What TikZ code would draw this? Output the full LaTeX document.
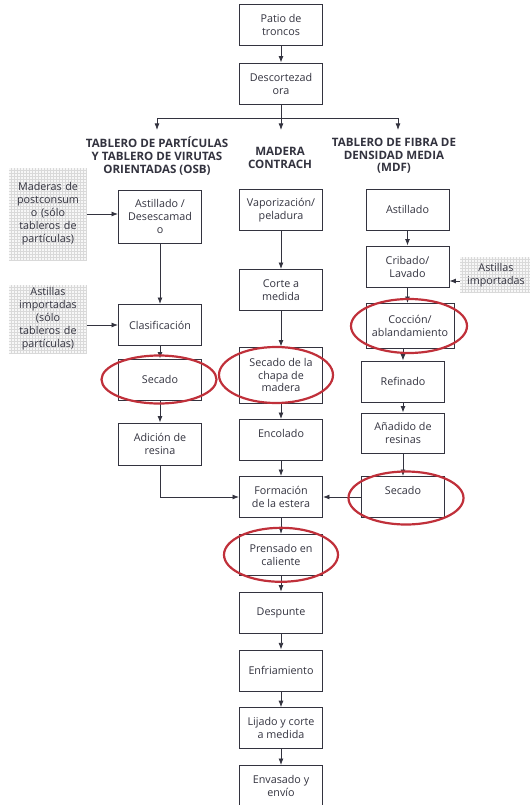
\documentclass[tikz,border=0pt]{standalone}
\usepackage{fontspec}
\setmainfont{Open Sans}
\usetikzlibrary{arrows.meta,positioning,shapes.geometric}
\definecolor{inkgray}{HTML}{33333F}
\definecolor{markred}{HTML}{C0303A}

\begin{document}
\begin{tikzpicture}[x=1bp,y=1bp,node distance=16bp,>=Latex,
 font=\fontsize{10.8}{13}\selectfont,
 stage/.style={draw=inkgray,line width=0.8bp,text=inkgray,minimum width=83bp,minimum height=41bp,align=center,inner sep=1bp},
 head/.style={text=inkgray,align=center,font=\fontsize{11.6}{12.6}\selectfont\bfseries},
 note/.style={text=inkgray,align=center,fill=gray!6,text width=74bp,inner sep=2bp,
   path picture={\draw[gray!30,line width=0.3bp,step=3bp] (path picture bounding box.south west) grid (path picture bounding box.north east);}},
 arr/.style={->,draw=inkgray,line width=0.8bp},
 ring/.style={draw=markred,line width=2.2bp}]
\useasboundingbox (0,0) rectangle (530,-805);

% common trunk
\node[stage] (patio) at (281,-25) {Patio de\\troncos};
\node[stage] (descort) at (281,-83.5) {Descortezad\\ora};
\coordinate (split) at (281,-118);
\coordinate (toL) at (157,-130);
\coordinate (toM) at (281,-130);
\coordinate (toR) at (398,-130);

% headings
\node[head] (hdL) at (157,-156) {TABLERO DE PARTÍCULAS\\Y TABLERO DE VIRUTAS\\ORIENTADAS (OSB)};
\node[head] (hdM) at (280,-158) {MADERA\\CONTRACH};
\node[head] (hdR) at (394,-156) {TABLERO DE FIBRA DE\\DENSIDAD MEDIA\\(MDF)};

% particulas / OSB
\node[stage,minimum height=53bp] (astL) at (160,-216.5) {Astillado /\\Desescamad\\o};
\node[stage] (clasif) at (160,-325) {Clasificación};
\node[stage] (secL) at (160,-379.5) {Secado};
\node[stage,minimum height=42bp] (resina) at (160,-444) {Adición de\\resina};
\node[note,minimum height=92bp] (postcon) at (48,-214) {Maderas de\\postconsum\\o (sólo\\tableros de\\partículas)};
\node[note,minimum height=68bp] (impL) at (48,-319) {Astillas\\importadas\\(sólo\\tableros de\\partículas)};

% contrachapado
\node[stage] (vapor) at (281,-210) {Vaporización/\\peladura};
\node[stage] (corte) at (281,-290) {Corte a\\medida};
\node[stage,minimum height=56bp] (chapa) at (281,-375) {Secado de la\\chapa de\\madera};
\node[stage] (encol) at (281,-440) {Encolado\\\mbox{}};
\node[stage] (estera) at (281,-497) {Formación\\de la estera};
\node[stage,below=of estera] (prens) {Prensado en\\caliente};
\node[stage,below=of prens] (despun) {Despunte};
\node[stage,below=of despun] (enfri) {Enfriamiento};
\node[stage,below=of enfri] (lijado) {Lijado y corte\\a medida};
\node[stage,below=of lijado] (envas) {Envasado y\\envío};

% MDF
\node[stage] (astR) at (407.5,-209.5) {Astillado};
\node[stage] (cribado) at (407.5,-266.5) {Cribado/\\Lavado};
\node[stage,minimum width=88bp,minimum height=45bp] (coccion) at (410,-326) {Cocción/\\ablandamiento};
\node[stage] (refin) at (403,-381.5) {Refinado};
\node[stage,minimum height=40bp] (anadido) at (403,-433) {Añadido de\\resinas};
\node[stage] (secR) at (403,-497) {Secado\\\mbox{}};
\node[note,text width=68bp,minimum height=36bp] (impR) at (496,-275) {Astillas\\importadas};

% connectors
\draw[arr] (patio) -- (descort);
\draw[arr] (descort) -- (toM);
\draw[arr] (split) -| (toL);
\draw[arr] (split) -| (toR);
\draw[arr] (postcon.east) -- (postcon.east -| astL.west);
\draw[arr] (impL.east |- clasif.west) -- (clasif.west);
\draw[arr] (astL) -- (clasif);
\draw[arr] (clasif) -- (secL);
\draw[arr] (secL) -- (resina);
\draw[arr] (resina.south) |- (estera.west);
\draw[arr] (vapor) -- (corte);
\draw[arr] (corte) -- (chapa);
\draw[arr] (chapa) -- (encol);
\draw[arr] (encol) -- (estera);
\draw[arr] (estera) -- (prens);
\draw[arr] (prens) -- (despun);
\draw[arr] (despun) -- (enfri);
\draw[arr] (enfri) -- (lijado);
\draw[arr] (lijado) -- (envas);
\draw[arr] (astR) -- (cribado);
\draw[arr] (cribado.south) -- (cribado.south |- coccion.north);
\draw[arr] (coccion.south -| refin.north) -- (refin.north);
\draw[arr] (refin) -- (anadido);
\draw[arr] (anadido) -- (secR);
\draw[arr] (secR) -- (estera);
\draw[arr] ([yshift=-6bp]impR.west) -- ([yshift=-6bp]impR.west -| cribado.east);

% highlighted steps
\draw[ring] ([xshift=-1bp]secL.center) ellipse [x radius=57.5, y radius=24];
\draw[ring] ([xshift=-5bp]chapa.center) ellipse [x radius=57, y radius=28];
\draw[ring] ([xshift=-1bp]coccion.center) ellipse [x radius=58, y radius=27];
\draw[ring] ([xshift=3bp,yshift=-1bp]secR.center) ellipse [x radius=57.5, y radius=26.5];
\draw[ring] (prens.center) ellipse [x radius=57, y radius=27];
\end{tikzpicture}
\end{document}
